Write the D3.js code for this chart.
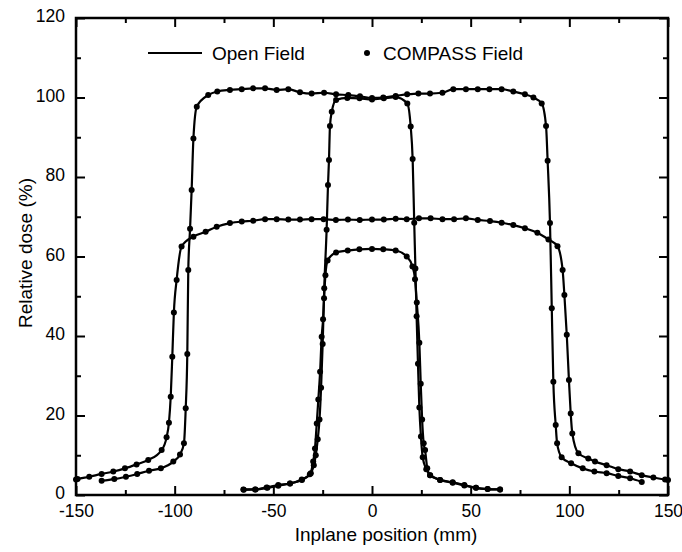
<!DOCTYPE html>
<html>
<head>
<meta charset="utf-8">
<script src="https://cdn.jsdelivr.net/npm/d3@7"></script>
<style>
  body { margin: 0; background: #fff; }
  text { font-family: "Liberation Sans", Arial, Helvetica, sans-serif; }
</style>
</head>
<body>
<div id="chart"></div>
<script>
// profile data: [position (mm), relative dose (%)]
var largeFull = [
  [-137,3.6],[-130.6,4.0],[-124.7,4.6],[-119,5.3],[-113,6.1],[-107,6.7],[-100.7,8.4],[-97.3,10.2],
  [-95.3,13],[-94.4,21.8],[-93.6,35.5],[-93.1,56.6],[-92.2,67],[-91.4,76.7],[-90.5,89.7],[-88.8,97.7],
  [-83,100.6],[-78.4,101.5],[-72,101.9],[-66,102.1],[-60.2,102.3],[-54.2,102.3],[-48.3,101.9],
  [-42.4,102.1],[-36.5,101.3],[-30.6,101.0],[-24.3,101.2],[-18.2,100.8],[-12,100.6],[-6.1,100.3],
  [0,99.9],[5.7,100.0],[12,100.4],[17.8,100.8],[23.5,101.0],[29.4,101.0],[35.7,101.2],[41.2,102.1],
  [47.6,102.1],[53.6,102.1],[59.5,102.1],[65.7,102.1],[71.6,101.5],[77.5,100.8],[81.8,100.0],
  [86,98.5],[88.2,92.8],[89,84.1],[90.2,68.4],[91.1,47.0],[91.9,28.5],[93.1,17.6],[93.8,13.0],
  [96.1,9.5],[100.9,8.0],[106.8,6.7],[112.7,5.9],[118.9,5.5],[124.8,4.8],[130.8,4.2],[136.7,3.3]
];
var largeLow = [
  [-150,3.9],[-149.2,4.0],[-143.3,4.6],[-137,5.3],[-131.1,5.9],[-125.2,6.7],[-119.3,7.7],[-113.4,8.8],
  [-106.6,11.3],[-104.1,14.5],[-102.9,18.2],[-102,24.7],[-101.2,34.8],[-100.4,45.9],[-99,54.1],
  [-96.5,62.5],[-90.5,65.0],[-84.3,66.2],[-78.7,67.5],[-72,68.4],[-66,68.8],[-60.2,69.0],[-54.2,69.4],
  [-48.3,69.4],[-42.4,69.3],[-36.5,69.3],[-30.6,69.4],[-24.5,69.4],[-18.3,69.2],[-12.2,69.3],
  [-6.2,69.2],[0,69.3],[6,69.3],[12,69.5],[17.6,69.4],[23.8,69.6],[29.7,69.6],[35.7,69.4],
  [41.6,69.4],[47.6,69.6],[53.6,69.2],[59.8,68.9],[65.7,68.5],[71.6,67.9],[77.5,67.1],[83.8,66.0],
  [89.4,64.3],[94,62.6],[96.6,56.6],[97.5,50.3],[98.7,40.3],[99.8,28.9],[100.7,20.5],[101.5,15.5],
  [104.6,10.5],[109.6,9.2],[113,8.4],[118.9,7.5],[124.8,6.5],[130.8,5.9],[136.7,5.0],[142.6,4.4],
  [148.5,3.9],[150,3.8]
];
var smallFull = [
  [-65,1.3],[-59,1.4],[-53,1.8],[-47.5,2.3],[-41.5,2.9],[-35.5,3.8],[-31,5.5],[-29.5,7.5],
  [-28.5,10],[-27.5,14],[-26.6,19],[-25.8,27],[-25,38],[-24.2,52],[-23,66.7],[-22.3,78],
  [-21.8,84.3],[-21.3,92.8],[-20.4,96.4],[-18.2,99.4],[-12.5,99.9],[-6.3,99.8],[0,99.5],[6,99.8],
  [12,100.1],[17.9,98.5],[19.6,92.7],[20.6,84.5],[21.4,68.5],[22,57],[22.6,45],[23.3,33],
  [24,22],[24.8,14.7],[25.7,9.5],[27.5,6.5],[29.5,5.0],[34.5,3.8],[40.9,3.2],[46.8,2.5],
  [52.7,1.8],[58.6,1.5],[64.9,1.4]
];
var smallLow = [
  [-65.2,1.4],[-59.3,1.4],[-53.4,1.9],[-47.5,2.5],[-41.6,2.9],[-35.6,3.9],[-31.5,5.2],[-29.8,8.4],
  [-28.9,11.7],[-28,18.0],[-27.2,24],[-26.3,31],[-25.5,39.8],[-24.8,44.2],[-24.3,49.5],[-23.6,55.3],
  [-22.5,59],[-18.2,61.0],[-12.3,61.5],[-6.4,61.8],[0,61.9],[5.7,61.8],[12,61.5],[17.6,60.0],
  [20.5,57.5],[21.8,54.3],[22.7,48.4],[24,38.3],[24.7,28],[25.4,19],[26.2,13],[26.9,11.3],
  [28,6.7],[29.4,5.0],[34.5,3.8],[40.9,3.1],[46.8,2.4],[52.7,1.8],[58.6,1.5],[64.9,1.4]
];
var profiles = [largeFull, largeLow, smallFull, smallLow];

var xMajor = [-150, -100, -50, 0, 50, 100, 150];
var xMinor = [-125, -75, -25, 25, 75, 125];
var yMajor = [0, 20, 40, 60, 80, 100, 120];
var yMinor = [10, 30, 50, 70, 90, 110];

var legendNames = ["Open Field", "COMPASS Field"];

var W = 682, H = 552;
var pLeft = 76, pRight = 668, pTop = 18, pBottom = 495;

var svg = d3.select("#chart").append("svg")
  .attr("width", W).attr("height", H);

var x = d3.scaleLinear().domain([-150, 150]).range([pLeft, pRight]);
var y = d3.scaleLinear().domain([0, 120]).range([pBottom, pTop]);

// plain hyphen for negatives, like the original
var fmt = function(d) { return String(d); };

// ticks pointing inward on all four sides
function addAxis(axis, tx, ty, labels) {
  var g = svg.append("g")
    .attr("transform", "translate(" + tx + "," + ty + ")")
    .call(axis);
  g.select(".domain").remove();
  g.selectAll(".tick line").attr("stroke", "#000").attr("stroke-width", 2);
  g.selectAll("text").style("font-size", "17.5px").attr("fill", "#000");
  if (!labels) g.selectAll("text").remove();
  return g;
}
addAxis(d3.axisBottom(x).tickValues(xMajor).tickSize(-9).tickPadding(10).tickFormat(fmt), 0, pBottom, true);
addAxis(d3.axisBottom(x).tickValues(xMinor).tickSize(-5), 0, pBottom, false);
addAxis(d3.axisTop(x).tickValues(xMajor).tickSize(-9), 0, pTop, false);
addAxis(d3.axisTop(x).tickValues(xMinor).tickSize(-5), 0, pTop, false);
addAxis(d3.axisLeft(y).tickValues(yMajor).tickSize(-9).tickPadding(11).tickFormat(fmt), pLeft, 0, true)
  .selectAll("text").attr("dy", "0.22em");
addAxis(d3.axisLeft(y).tickValues(yMinor).tickSize(-5), pLeft, 0, false);
addAxis(d3.axisRight(y).tickValues(yMajor).tickSize(-9), pRight, 0, false);
addAxis(d3.axisRight(y).tickValues(yMinor).tickSize(-5), pRight, 0, false);

svg.append("rect")
  .attr("x", pLeft).attr("y", pTop)
  .attr("width", pRight - pLeft).attr("height", pBottom - pTop)
  .attr("fill", "none").attr("stroke", "#000").attr("stroke-width", 2.5);

// Open field lines
var line = d3.line()
  .x(function(d) { return x(d[0]); })
  .y(function(d) { return y(d[1]); })
  .curve(d3.curveMonotoneX);

svg.selectAll("path.profile")
  .data(profiles)
  .enter()
  .append("path")
    .attr("class", "profile")
    .attr("d", line)
    .attr("fill", "none")
    .attr("stroke", "#000")
    .attr("stroke-width", 2.2);

// COMPASS points
svg.selectAll("g.dots")
  .data(profiles)
  .enter()
  .append("g")
    .attr("class", "dots")
  .selectAll("circle")
  .data(function(d) { return d; })
  .enter()
  .append("circle")
    .attr("cx", function(d) { return x(d[0]); })
    .attr("cy", function(d) { return y(d[1]); })
    .attr("r", 3)
    .attr("fill", "#000");

// legend
svg.append("line")
  .attr("x1", 148).attr("x2", 202).attr("y1", 53).attr("y2", 53)
  .attr("stroke", "#000").attr("stroke-width", 2.2);
svg.append("text")
  .attr("x", 212).attr("y", 60)
  .style("font-size", "19px")
  .text(legendNames[0]);
svg.append("circle")
  .attr("cx", 367).attr("cy", 53).attr("r", 3).attr("fill", "#000");
svg.append("text")
  .attr("x", 383).attr("y", 60)
  .style("font-size", "19px")
  .text(legendNames[1]);

// axis titles
svg.append("text")
  .attr("x", (pLeft + pRight) / 2 + 14).attr("y", 541)
  .attr("text-anchor", "middle")
  .style("font-size", "19px")
  .text("Inplane position (mm)");
svg.append("text")
  .attr("transform", "translate(32,253) rotate(-90)")
  .attr("text-anchor", "middle")
  .style("font-size", "19px")
  .text("Relative dose (%)");
</script>
</body>
</html>
